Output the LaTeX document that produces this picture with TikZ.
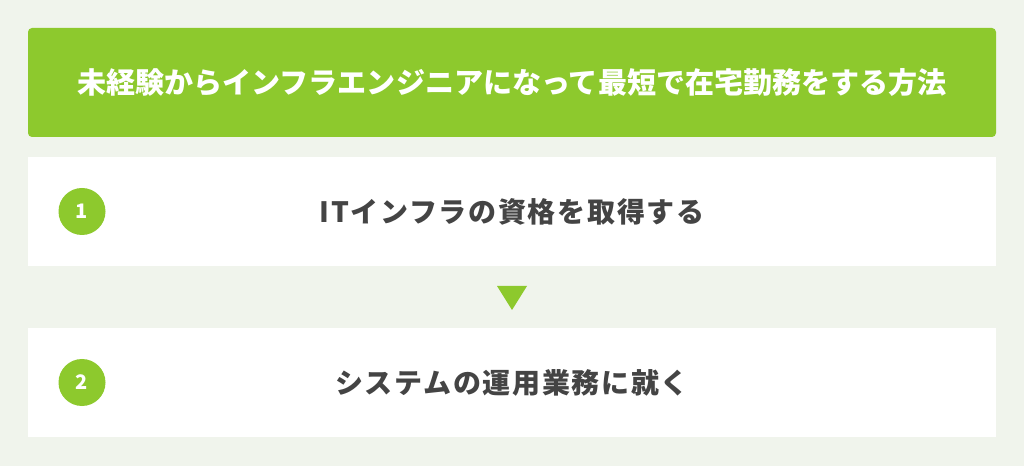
\documentclass[tikz,border=0pt]{standalone}
\usepackage{fontspec}
\usetikzlibrary{positioning,calc}
\newfontfamily\headfont{Noto Sans CJK JP}
\newfontfamily\stepfont[LetterSpace=6]{Noto Sans CJK JP}
\definecolor{pagebg}{HTML}{F0F4EC}
\definecolor{leafgreen}{HTML}{8DC92D}
\definecolor{textgray}{HTML}{444444}
\tikzset{
  headbox/.style={fill=leafgreen, rounded corners=3pt, minimum width=968*0.75pt,
    minimum height=109*0.75pt, text=white, font=\headfont\bfseries\fontsize{21.8}{24}\selectfont},
  stepbox/.style={fill=white, minimum width=968*0.75pt, minimum height=109*0.75pt,
    text=textgray, font=\stepfont\bfseries\fontsize{21}{24}\selectfont},
  stepnum/.style={circle, fill=leafgreen, minimum size=47*0.75pt, inner sep=0pt,
    text=white, font=\headfont\bfseries\fontsize{15}{16}\selectfont}
}

\begin{document}
\begin{tikzpicture}[x=0.75pt,y=-0.75pt]
  \fill[pagebg] (0,0) rectangle (1024,466);
  \useasboundingbox (0,0) rectangle (1024,466);
  % title
  \node[headbox] (title) at (512,82.5) {未経験からインフラエンジニアになって最短で在宅勤務をする方法};
  % steps
  \node[stepbox] (step1) at (512,211.5) {ITインフラの資格を取得する};
  \node[stepbox] (step2) at (512,382.5) {システムの運用業務に就く};
  \node[stepnum] (num1) at (82,211.5) {1};
  \node[stepnum] (num2) at (82,382.5) {2};
  % arrow between the steps
  \coordinate (mid) at ($(step1.south)!0.5!(step2.north)$);
  \fill[leafgreen] ($(mid)+(-15,-11)$) -- ($(mid)+(15,-11)$) -- ($(mid)+(0,13)$) -- cycle;
\end{tikzpicture}
\end{document}
